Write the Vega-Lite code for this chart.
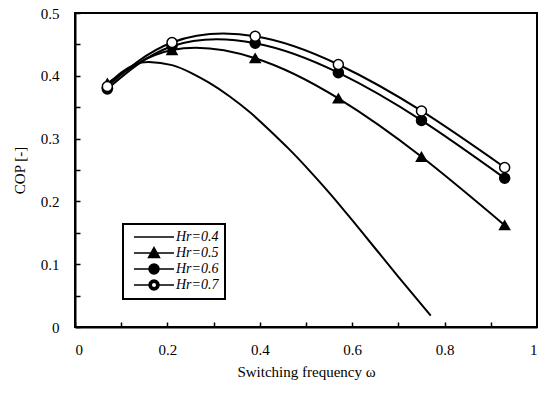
{
  "$schema": "https://vega.github.io/schema/vega-lite/v6.json",
  "width": 462,
  "height": 314,
  "autosize": "none",
  "padding": {"left": 75, "top": 13, "right": 1, "bottom": 68},
  "background": "white",
  "config": {
    "view": {"stroke": "black", "strokeWidth": 2},
    "legend": {"strokeColor": "black", "strokeWidth": 2},
    "axis": {
      "grid": false,
      "domainColor": "black",
      "domainWidth": 2,
      "tickColor": "black",
      "tickWidth": 1.5,
      "tickSize": -5,
      "labelFont": "Liberation Serif",
      "labelFontSize": 15,
      "labelColor": "black",
      "titleFont": "Liberation Serif",
      "titleFontSize": 15,
      "titleFontWeight": "normal",
      "titleColor": "black"
    }
  },
  "datasets": {
    "curves": [
      {"Hr": "Hr=0.4", "x": 0.07, "cop": 0.385},
      {"Hr": "Hr=0.4", "x": 0.10, "cop": 0.405},
      {"Hr": "Hr=0.4", "x": 0.13, "cop": 0.418},
      {"Hr": "Hr=0.4", "x": 0.16, "cop": 0.422},
      {"Hr": "Hr=0.4", "x": 0.21, "cop": 0.417},
      {"Hr": "Hr=0.4", "x": 0.25, "cop": 0.405},
      {"Hr": "Hr=0.4", "x": 0.29, "cop": 0.389},
      {"Hr": "Hr=0.4", "x": 0.335, "cop": 0.367},
      {"Hr": "Hr=0.4", "x": 0.38, "cop": 0.341},
      {"Hr": "Hr=0.4", "x": 0.42, "cop": 0.314},
      {"Hr": "Hr=0.4", "x": 0.465, "cop": 0.282},
      {"Hr": "Hr=0.4", "x": 0.50, "cop": 0.255},
      {"Hr": "Hr=0.4", "x": 0.55, "cop": 0.214},
      {"Hr": "Hr=0.4", "x": 0.60, "cop": 0.170},
      {"Hr": "Hr=0.4", "x": 0.65, "cop": 0.125},
      {"Hr": "Hr=0.4", "x": 0.70, "cop": 0.080},
      {"Hr": "Hr=0.4", "x": 0.77, "cop": 0.018},
      {"Hr": "Hr=0.5", "x": 0.07, "cop": 0.388},
      {"Hr": "Hr=0.5", "x": 0.21, "cop": 0.441},
      {"Hr": "Hr=0.5", "x": 0.39, "cop": 0.428},
      {"Hr": "Hr=0.5", "x": 0.57, "cop": 0.364},
      {"Hr": "Hr=0.5", "x": 0.75, "cop": 0.271},
      {"Hr": "Hr=0.5", "x": 0.93, "cop": 0.162},
      {"Hr": "Hr=0.6", "x": 0.07, "cop": 0.379},
      {"Hr": "Hr=0.6", "x": 0.21, "cop": 0.447},
      {"Hr": "Hr=0.6", "x": 0.39, "cop": 0.452},
      {"Hr": "Hr=0.6", "x": 0.57, "cop": 0.405},
      {"Hr": "Hr=0.6", "x": 0.75, "cop": 0.329},
      {"Hr": "Hr=0.6", "x": 0.93, "cop": 0.237},
      {"Hr": "Hr=0.7", "x": 0.07, "cop": 0.383},
      {"Hr": "Hr=0.7", "x": 0.21, "cop": 0.453},
      {"Hr": "Hr=0.7", "x": 0.39, "cop": 0.463},
      {"Hr": "Hr=0.7", "x": 0.57, "cop": 0.418},
      {"Hr": "Hr=0.7", "x": 0.75, "cop": 0.344},
      {"Hr": "Hr=0.7", "x": 0.93, "cop": 0.254}
    ]
  },
  "data": {"name": "curves"},
  "encoding": {
    "x": {
      "field": "x", "type": "quantitative",
      "scale": {"domain": [0, 1], "nice": false},
      "axis": {
        "values": [0, 0.1, 0.2, 0.3, 0.4, 0.5, 0.6, 0.7, 0.8, 0.9, 1],
        "labelExpr": "round(datum.value*10) % 2 == 0 ? format(datum.value, '~g') : ''",
        "labelPadding": 20,
        "titlePadding": 7,
        "title": "Switching frequency ω"
      }
    },
    "y": {
      "field": "cop", "type": "quantitative",
      "scale": {"domain": [0, 0.5], "nice": false},
      "axis": {
        "values": [0, 0.05, 0.1, 0.15, 0.2, 0.25, 0.3, 0.35, 0.4, 0.45, 0.5],
        "labelExpr": "round(datum.value*100) % 10 == 0 ? format(datum.value, '~g') : ''",
        "labelPadding": 21,
        "titlePadding": 13,
        "title": "COP [-]"
      }
    }
  },
  "layer": [
    {
      "mark": {"type": "line", "interpolate": "natural", "color": "black", "strokeWidth": 2},
      "encoding": {"detail": {"field": "Hr"}}
    },
    {
      "transform": [{"filter": "datum.Hr != 'Hr=0.4'"}],
      "mark": {"type": "point", "filled": true, "size": 100, "stroke": "black", "strokeWidth": 1.5, "opacity": 1},
      "encoding": {
        "shape": {
          "field": "Hr", "type": "nominal",
          "scale": {"domain": ["Hr=0.5", "Hr=0.6", "Hr=0.7"], "range": ["triangle-up", "circle", "circle"]},
          "legend": null
        },
        "fill": {
          "field": "Hr", "type": "nominal",
          "scale": {"domain": ["Hr=0.5", "Hr=0.6", "Hr=0.7"], "range": ["black", "black", "white"]},
          "legend": null
        }
      }
    },
    {
      "mark": {"type": "point", "filled": true, "color": "black", "stroke": "black", "strokeWidth": 2, "opacity": 0},
      "encoding": {
        "shape": {
          "field": "Hr", "type": "nominal",
          "scale": {
            "domain": ["Hr=0.4", "Hr=0.5", "Hr=0.6", "Hr=0.7"],
            "range": [
              "M-4,0H4",
              "M-4,0H4M-1.1,0.9L0,-1.1L1.1,0.9Z",
              "M-4,0H4M1,0A1,1,0,1,1,-1,0A1,1,0,1,1,1,0Z",
              "M-4,0H-1M1,0H4M1,0A1,1,0,1,1,-1,0A1,1,0,1,1,1,0ZM0.55,0A0.55,0.55,0,1,0,-0.55,0A0.55,0.55,0,1,0,0.55,0Z"
            ]
          },
          "legend": {
            "title": null,
            "orient": "none",
            "legendX": 48,
            "legendY": 211,
            "padding": 6,
            "symbolSize": 100,
            "symbolOffset": 18,
            "labelOffset": 15,
            "rowPadding": 0,
            "labelFont": "Liberation Serif",
            "labelFontStyle": "italic",
            "labelFontSize": 14,
            "labelColor": "black",
            "encode": {
              "symbols": {
                "update": {
                  "fill": {"value": "black"},
                  "stroke": {"value": "black"},
                  "strokeWidth": {"value": 2},
                  "opacity": {"value": 1},
                  "fillOpacity": {"value": 1},
                  "strokeOpacity": {"value": 1}
                }
              }
            }
          }
        }
      }
    }
  ],
  "resolve": {"scale": {"shape": "independent"}, "legend": {"shape": "independent"}}
}
